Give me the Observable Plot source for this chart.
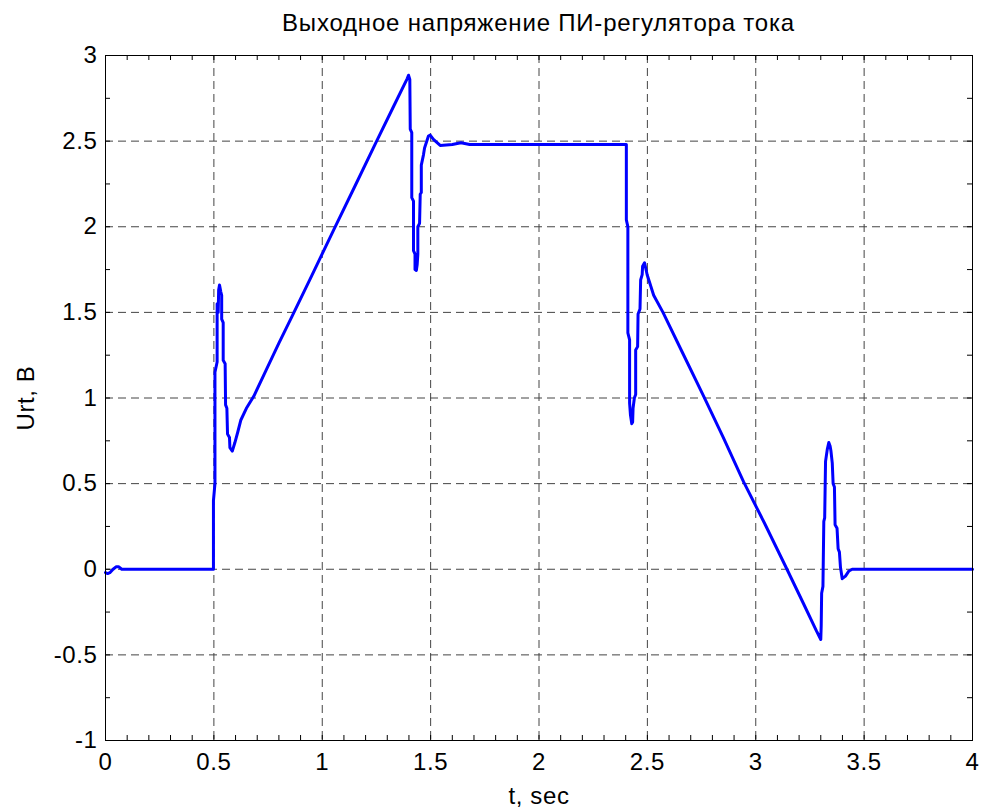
<!DOCTYPE html>
<html><head><meta charset="utf-8">
<script src="https://cdn.jsdelivr.net/npm/d3@7"></script>
<script src="https://cdn.jsdelivr.net/npm/@observablehq/plot@0.6"></script>
<style>
body{margin:0;background:#fff;}
#title{box-sizing:border-box;width:984px;height:38px;padding-top:11px;padding-left:105px;padding-right:12px;text-align:center;font-family:"Liberation Sans",Arial,sans-serif;font-size:24px;letter-spacing:0.8px;line-height:1;color:#000;white-space:nowrap;}
svg text{letter-spacing:0.6px;}
</style></head><body>
<div id="title"></div>
<div id="chart"></div>
<script>
const titleText = "Выходное напряжение ПИ-регулятора тока";
const xLabel = "t, sec";
const yLabel = "Urt, B";
const xTicks = [0, 0.5, 1, 1.5, 2, 2.5, 3, 3.5, 4];
const xTickLabels = ["0", "0.5", "1", "1.5", "2", "2.5", "3", "3.5", "4"];
const yTicks = [-1, -0.5, 0, 0.5, 1, 1.5, 2, 2.5, 3];
const yTickLabels = ["-1", "-0.5", "0", "0.5", "1", "1.5", "2", "2.5", "3"];
const xMinorStep = 0.1;
const yMinorStep = 0.25;

const t = [0, 0.01, 0.02, 0.035, 0.05, 0.06, 0.075, 0.498,
  0.498, 0.505, 0.505, 0.515, 0.515, 0.52, 0.522, 0.526, 0.532, 0.536, 0.536, 0.543, 0.543, 0.552, 0.554, 0.56, 0.563, 0.572, 0.574, 0.585, 0.597, 0.61, 0.624, 0.65, 0.684, 0.74, 0.80, 0.86, 0.95, 1.054, 1.15, 1.247, 1.33, 1.392, 1.398,
  1.404, 1.406, 1.413, 1.413, 1.421, 1.421, 1.428, 1.428, 1.434, 1.438, 1.441, 1.441, 1.449, 1.452, 1.457, 1.457, 1.467, 1.472, 1.49, 1.498, 1.513, 1.544, 1.6, 1.64, 1.68,
  2.403, 2.403, 2.41, 2.41, 2.418, 2.418, 2.422, 2.428, 2.432, 2.434, 2.44, 2.446, 2.446, 2.455, 2.457, 2.466, 2.469, 2.476, 2.478, 2.487, 2.499, 2.529, 2.572, 2.66, 2.76, 2.85, 2.944, 3.04, 3.144, 3.22, 3.28, 3.296, 3.3,
  3.302, 3.304, 3.31, 3.314, 3.318, 3.322, 3.33, 3.337, 3.343, 3.347, 3.353, 3.357, 3.363, 3.366, 3.375, 3.38, 3.386, 3.391, 3.399, 3.414, 3.43, 3.445, 4.0];
const u = [-0.02, -0.025, -0.02, 0.0, 0.015, 0.015, 0.0, 0.0,
  0.40, 0.50, 1.15, 1.21, 1.55, 1.50, 1.63, 1.66, 1.62, 1.60, 1.46, 1.44, 1.22, 1.20, 0.96, 0.94, 0.79, 0.77, 0.71, 0.69, 0.74, 0.80, 0.87, 0.94, 1.01, 1.16, 1.32, 1.475, 1.71, 1.985, 2.235, 2.49, 2.705, 2.865, 2.885,
  2.86, 2.57, 2.55, 2.17, 2.15, 1.86, 1.84, 1.75, 1.745, 1.78, 1.84, 2.00, 2.02, 2.19, 2.20, 2.36, 2.42, 2.46, 2.53, 2.535, 2.51, 2.475, 2.48, 2.49, 2.48,
  2.48, 2.04, 2.00, 1.38, 1.34, 0.97, 0.90, 0.85, 0.86, 0.94, 1.00, 1.02, 1.28, 1.30, 1.49, 1.52, 1.69, 1.72, 1.77, 1.79, 1.72, 1.60, 1.50, 1.27, 1.01, 0.77, 0.51, 0.27, 0.00, -0.20, -0.36, -0.40, -0.41,
  -0.33, -0.14, -0.10, 0.28, 0.30, 0.63, 0.70, 0.74, 0.72, 0.69, 0.62, 0.50, 0.48, 0.26, 0.24, 0.12, 0.10, 0.01, -0.055, -0.04, -0.01, 0.00, 0.00];

const data = t.map((d, i) => ({t: d, u: u[i]}));
const xMinor = d3.range(xTicks[0], xTicks[xTicks.length - 1] + 1e-9, xMinorStep);
const yMinor = d3.range(yTicks[0], yTicks[yTicks.length - 1] + 1e-9, yMinorStep);
const xFmt = new Map(xTicks.map((d, i) => [d, xTickLabels[i]]));
const yFmt = new Map(yTicks.map((d, i) => [d, yTickLabels[i]]));

document.getElementById("title").textContent = titleText;

const W = 984, H = 771, mT = 17, mB = 69, mL = 105, mR = 12;
const fw = W - mL - mR, fh = H - mT - mB, tk = 5;
const font = "'Liberation Sans', Arial, sans-serif";
const gridStyle = {stroke: "#444", strokeOpacity: 1, strokeWidth: 1, strokeDasharray: "8,5"};

const chart = Plot.plot({
  width: W, height: H,
  marginTop: mT, marginBottom: mB, marginLeft: mL, marginRight: mR,
  style: {fontFamily: font, fontSize: "24px", background: "white", color: "black"},
  x: {domain: [xTicks[0], xTicks[xTicks.length - 1]], label: null},
  y: {domain: [yTicks[0], yTicks[yTicks.length - 1]], label: null},
  marks: [
    Plot.gridX(xTicks.slice(1, -1), gridStyle),
    Plot.gridY(yTicks.slice(1, -1), gridStyle),
    Plot.tickX(xMinor, {x: d => d, insetTop: fh - tk, stroke: "black"}),
    Plot.tickX(xMinor, {x: d => d, insetBottom: fh - tk, stroke: "black"}),
    Plot.tickY(yMinor, {y: d => d, insetRight: fw - tk, stroke: "black"}),
    Plot.tickY(yMinor, {y: d => d, insetLeft: fw - tk, stroke: "black"}),
    Plot.line(data, {x: "t", y: "u", stroke: "#0000ff", strokeWidth: 3, strokeLinejoin: "round"}),
    Plot.frame({stroke: "black", strokeWidth: 1}),
    Plot.axisX(xTicks, {tickSize: 0, tickPadding: 12, tickFormat: d => xFmt.get(d), label: null, fontSize: 24}),
    Plot.axisY(yTicks, {tickSize: 0, tickPadding: 8, tickFormat: d => yFmt.get(d), label: null, fontSize: 24}),
    Plot.text([xLabel], {text: d => d, frameAnchor: "bottom", dy: 63, lineAnchor: "bottom", fontSize: 24}),
    Plot.text([yLabel], {text: d => d, frameAnchor: "left", rotate: -90, dx: -72, lineAnchor: "bottom", textAnchor: "middle", fontSize: 24})
  ]
});
document.getElementById("chart").appendChild(chart);
</script>
</body></html>
